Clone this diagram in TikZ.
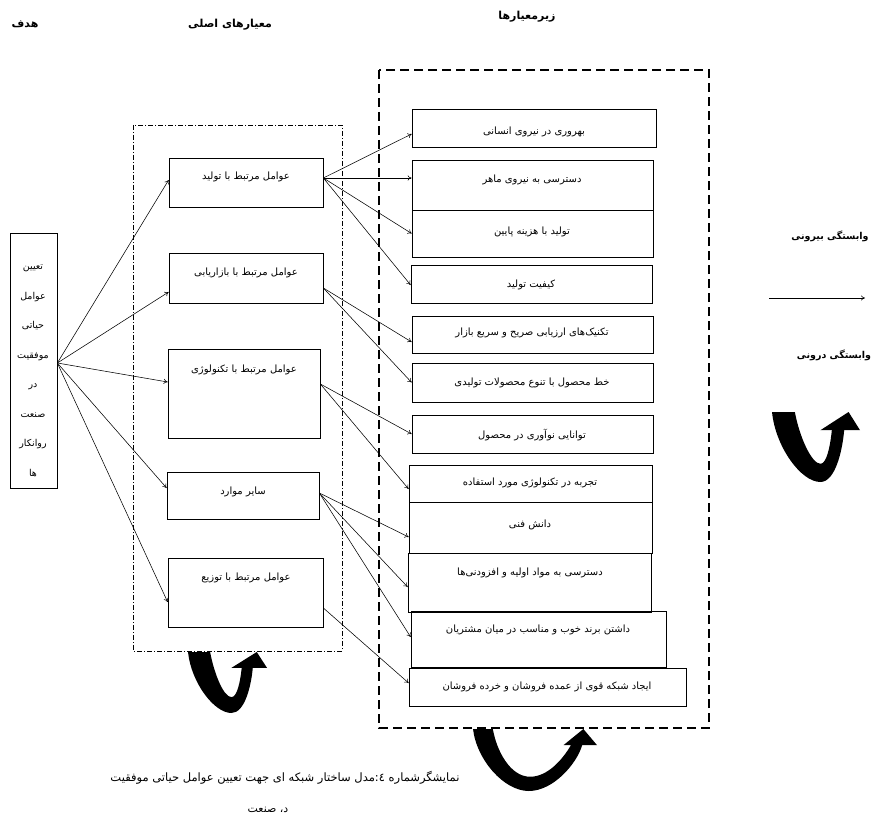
\documentclass[tikz,border=0pt]{standalone}
\usepackage{fontspec}
\usetikzlibrary{arrows.meta,calc}
\TeXXeTstate=1
\newfontfamily\arabicfont[Script=Arabic]{DejaVu Sans}
\newcommand\fa[1]{\beginR #1\endR}
\newcommand\rbox[5]{\node[box,minimum width={#4-#2},minimum height={#5-#3}] (#1) at ({(#2+#4)/2},{(#3+#5)/2}) {};}
\tikzset{
  uturn/.pic={
    \fill[black] (0,0) .. controls (0.04,0.5) and (0.33,1) .. (0.55,1)
      .. controls (0.72,1) and (0.8,0.55) .. (0.82,0.26) -- (1,0.26) -- (0.87,0) -- (0.55,0.26) -- (0.68,0.26)
      .. controls (0.66,0.5) and (0.62,0.74) .. (0.55,0.74)
      .. controls (0.45,0.74) and (#1+0.05,0.35) .. (#1,0) -- cycle;
  },
  uturnw/.pic={
    \fill[black] (0,0) .. controls (0.03,0.5) and (0.25,1) .. (0.45,1)
      .. controls (0.65,1) and (0.84,0.55) .. (0.88,0.26) -- (1,0.26) -- (0.89,0) -- (0.73,0.26) -- (0.79,0.26)
      .. controls (0.72,0.5) and (0.6,0.77) .. (0.46,0.77)
      .. controls (0.3,0.77) and (0.19,0.35) .. (0.16,0) -- cycle;
  }
}
\begin{document}
\begin{tikzpicture}[x=1pt,y=-1pt,
  box/.style={draw,line width=0.7pt,inner sep=0pt},
  fa/.style={font=\arabicfont\fontsize{10}{12}\selectfont,inner sep=0pt},
  ttl/.style={font=\arabicfont\bfseries\fontsize{11}{13}\selectfont,inner sep=0pt},
  lg/.style={font=\arabicfont\bfseries\fontsize{9.5}{12}\selectfont,inner sep=0pt},
  conn/.style={line width=0.55pt,-{To[length=4pt,width=5pt]}},
]
\useasboundingbox (0,0) rectangle (874,818);
\fill[white] (0,0) rectangle (874,818);

% titles
\node[ttl] (t1) at (25,24) {\fa{هدف}};
\node[ttl] (t2) at (230,25) {\fa{معیارهای اصلی}};
\node[ttl] (t3) at (527,17) {\fa{زیرمعیارها}};

% group frames
\draw[line width=0.6pt,dash pattern=on 5pt off 2pt on 1pt off 2pt] (133,125) rectangle (342,651);
\draw[line width=2.4pt,dash pattern=on 9pt off 5pt] (379,70) rectangle (709,728);

% goal
\rbox{g}{10}{233}{57}{488}
\node[fa,align=center,font=\arabicfont\fontsize{9.5}{29.5}\selectfont] (gt) at (33,371)
  {\fa{تعیین}\\\fa{عوامل}\\\fa{حیاتی}\\\fa{موفقیت}\\\fa{در}\\\fa{صنعت}\\\fa{روانکار}\\\fa{ها}};

% main criteria
\rbox{m1}{169}{158}{323}{207}
\rbox{m2}{169}{253}{323}{303}
\rbox{m3}{168}{349}{320}{438}
\rbox{m4}{167}{472}{319}{519}
\rbox{m5}{168}{558}{323}{627}
\node[fa] (m1t) at (246,177) {\fa{عوامل مرتبط با تولید}};
\node[fa] (m2t) at (246,273) {\fa{عوامل مرتبط با بازاریابی}};
\node[fa] (m3t) at (244,370) {\fa{عوامل مرتبط با تکنولوژی}};
\node[fa] (m4t) at (243,492) {\fa{سایر موارد}};
\node[fa] (m5t) at (246,578) {\fa{عوامل مرتبط با توزیع}};

% sub criteria
\rbox{s1}{412}{109}{656}{147}
\rbox{s2}{412}{160}{653}{210}
\rbox{s3}{412}{210}{653}{257}
\rbox{s4}{411}{265}{652}{303}
\rbox{s5}{412}{316}{653}{353}
\rbox{s6}{412}{363}{653}{402}
\rbox{s7}{412}{415}{653}{453}
\rbox{s8}{409}{465}{652}{502}
\rbox{s9}{409}{502}{652}{553}
\rbox{s10}{408}{553}{651}{612}
\rbox{s11}{411}{611}{666}{667}
\rbox{s12}{409}{668}{686}{706}
\node[fa] (s1t) at (534,132) {\fa{بهروری در نیروی انسانی}};
\node[fa] (s2t) at (532,180) {\fa{دسترسی به نیروی ماهر}};
\node[fa] (s3t) at (532,232) {\fa{تولید با هزینه پایین}};
\node[fa] (s4t) at (531,285) {\fa{کیفیت تولید}};
\node[fa] (s5t) at (532,333) {\fa{تکنیک‌های ارزیابی صریح و سریع بازار}};
\node[fa] (s6t) at (532,383) {\fa{خط محصول با تنوع محصولات تولیدی}};
\node[fa] (s7t) at (532,435) {\fa{توانایی نوآوری در محصول}};
\node[fa] (s8t) at (530,483) {\fa{تجربه در تکنولوژی مورد استفاده}};
\node[fa] (s9t) at (530,525) {\fa{دانش فنی}};
\node[fa] (s10t) at (530,573) {\fa{دسترسی به مواد اولیه و افزودنی‌ها}};
\node[fa] (s11t) at (538,630) {\fa{داشتن برند خوب و مناسب در میان مشتریان}};
\node[fa] (s12t) at (547,687) {\fa{ایجاد شبکه قوی از عمده فروشان و خرده فروشان}};

% goal -> main
\draw[conn] ([yshift=-2.5pt]g.east) -- ([yshift=2.5pt]m1.west);
\draw[conn] ([yshift=-2.5pt]g.east) -- ([yshift=-14pt]m2.west);
\draw[conn] ([yshift=-2.5pt]g.east) -- ([yshift=11.5pt]m3.west);
\draw[conn] ([yshift=-2.5pt]g.east) -- ([yshift=7.5pt]m4.west);
\draw[conn] ([yshift=-2.5pt]g.east) -- ([yshift=-9.5pt]m5.west);

% main -> sub
\draw[conn] ([yshift=4.5pt]m1.east) -- ([yshift=-6pt]s1.west);
\draw[conn] ([yshift=4.5pt]m1.east) -- ([yshift=7pt]s2.west);
\draw[conn] ([yshift=4.5pt]m1.east) -- (s3.west);
\draw[conn] ([yshift=4.5pt]m1.east) -- ([yshift=-1pt]s4.west);
\draw[conn] ([yshift=-10pt]m2.east) -- ([yshift=-7.5pt]s5.west);
\draw[conn] ([yshift=-10pt]m2.east) -- (s6.west);
\draw[conn] ([yshift=9.5pt]m3.east) -- (s7.west);
\draw[conn] ([yshift=9.5pt]m3.east) -- ([yshift=-5.5pt]s8.west);
\draw[conn] ([yshift=2.5pt]m4.east) -- ([yshift=-9.5pt]s9.west);
\draw[conn] ([yshift=2.5pt]m4.east) -- ([yshift=-4.5pt]s10.west);
\draw[conn] ([yshift=2.5pt]m4.east) -- ([yshift=2pt]s11.west);
\draw[conn] ([yshift=-15.5pt]m5.east) -- ([yshift=4pt]s12.west);

% legend
\node[lg] (l1) at (830,236) {\fa{وابستگی بیرونی}};
\coordinate (la) at (769,298);
\coordinate (lb) at (865,298);
\draw[conn] (la) -- (lb);
\node[lg] (l2) at (834,355) {\fa{وابستگی درونی}};
\pic[xscale=88,yscale=70] at (772,412) {uturn=0.26};

% inner dependence arrows
\pic[xscale=79,yscale=61] at (188,652) {uturn=0.28};
\pic[xscale=124,yscale=62] at (473,729) {uturnw};

% caption
\node[fa,font=\arabicfont\fontsize{11.5}{13}\selectfont] (cap1) at (285,778) {\fa{نمایشگرشماره ٤:مدل ساختار شبکه ای جهت تعیین عوامل حیاتی موفقیت}};
\node[fa,font=\arabicfont\fontsize{11}{13}\selectfont] (cap2) at (268,810) {\fa{د، صنعت}};
\end{tikzpicture}
\end{document}
